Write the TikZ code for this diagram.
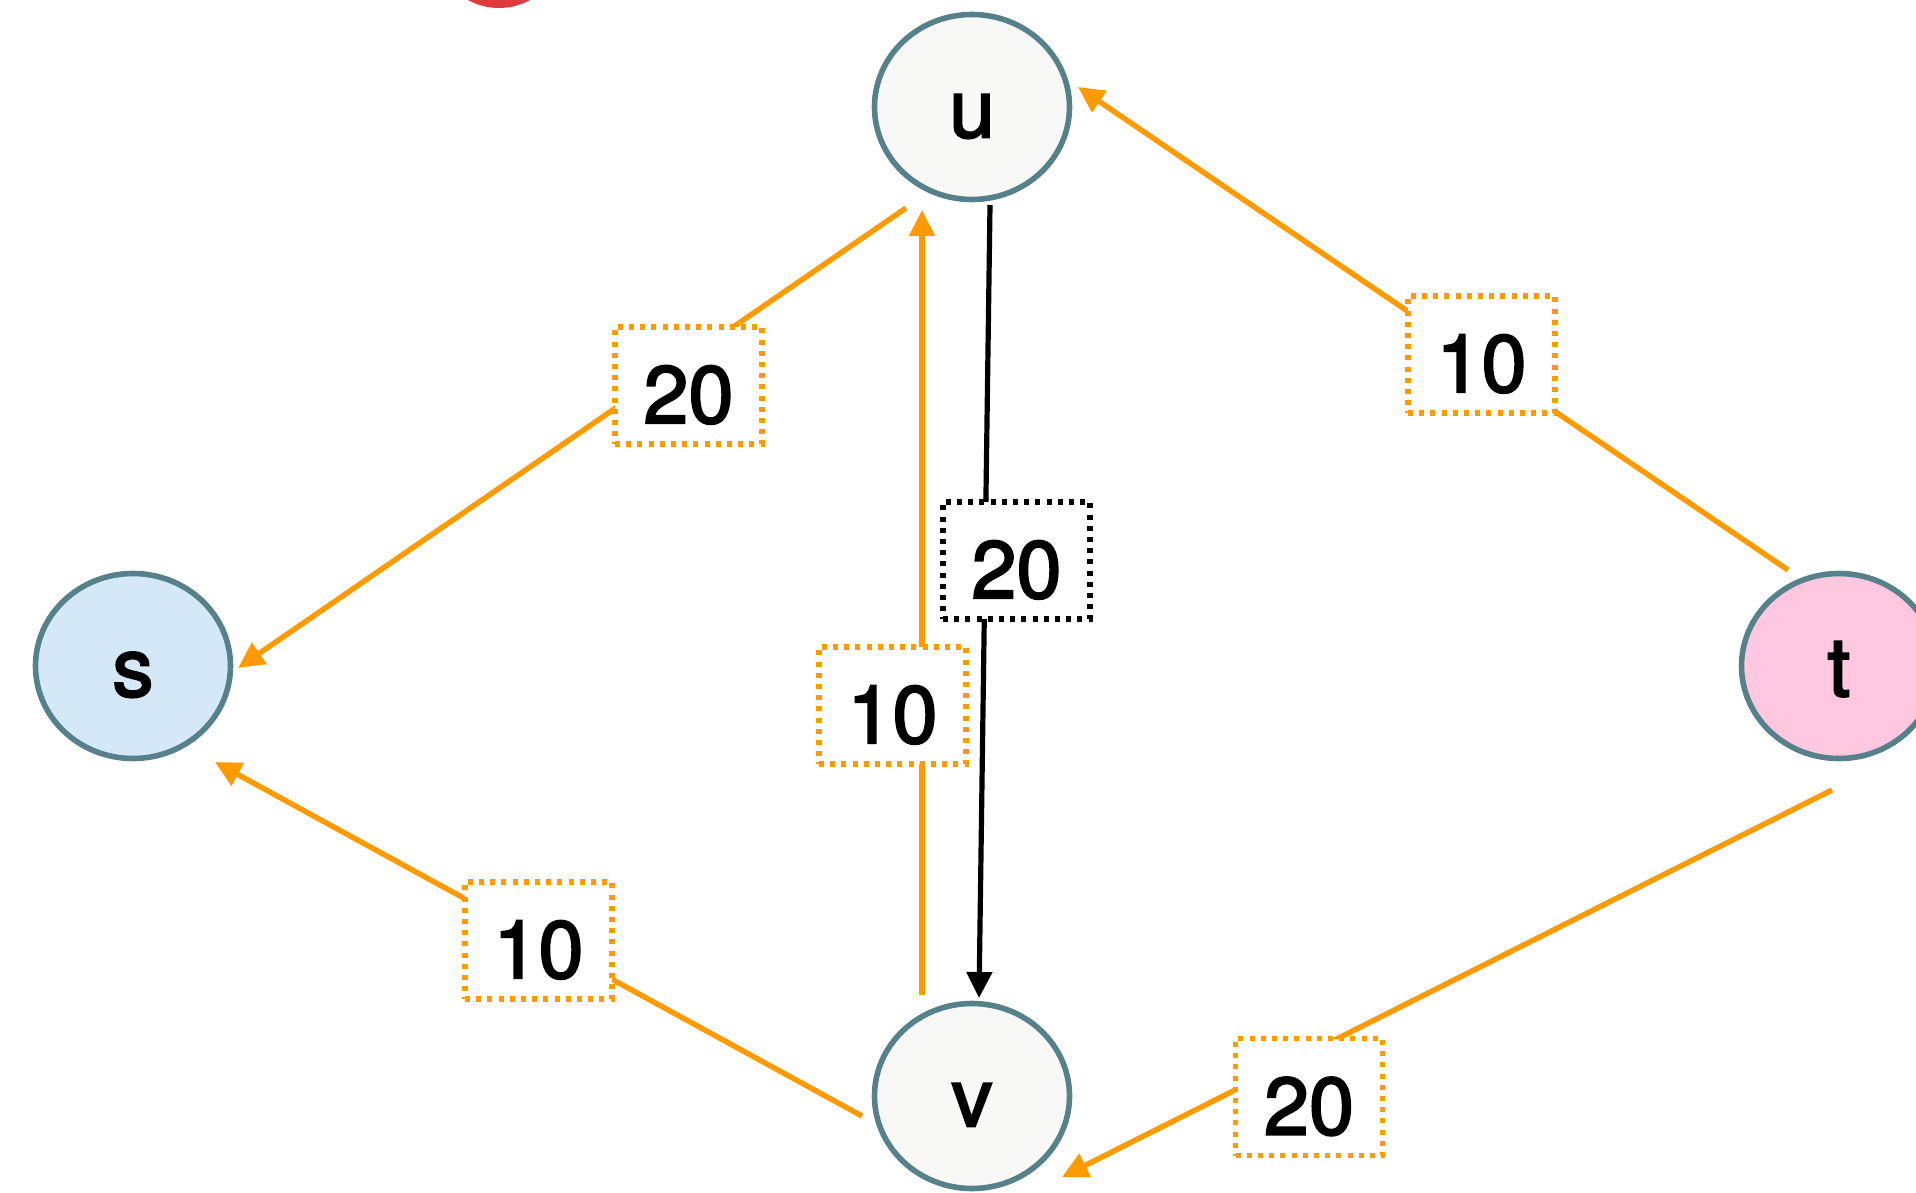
\documentclass[tikz,border=0pt]{standalone}
\usepackage{fontspec}
\setmainfont[FakeBold=2.5]{TeX Gyre Heros}
\usetikzlibrary{arrows.meta,shapes.geometric}
\definecolor{edgeor}{HTML}{FF9A00}
\definecolor{ringc}{HTML}{56808A}
\definecolor{grayfill}{HTML}{F8F8F6}
\definecolor{sfill}{HTML}{D4E8F8}
\definecolor{tfill}{HTML}{FFC8E0}
\definecolor{redc}{HTML}{E03A3E}
\tikzset{
  vertex/.style={ellipse, draw=ringc, line width=2.8pt, minimum width=97.5pt, minimum height=92.5pt, inner sep=0pt, text height=32pt, text depth=1.7pt, font=\fontsize{41}{41}\selectfont},
  orline/.style={draw=edgeor, line width=2.7pt},
  blline/.style={draw=black, line width=2.6pt},
  tip/.style={-{Triangle[length=13pt,width=12.5pt]}},
  wlabel/.style={fill=white, line width=2.6pt, dash pattern=on 2.5pt off 3.1pt, minimum width=73.5pt, minimum height=58.5pt, inner sep=0pt, text height=40pt, text depth=2.5pt, font=\fontsize{40.5}{40.5}\selectfont},
  orlabel/.style={wlabel, draw=edgeor},
  bllabel/.style={wlabel, draw=black}
}
\begin{document}
\begin{tikzpicture}[x=0.5pt,y=-0.5pt]
\useasboundingbox (0,0) rectangle (1916,1193);
\clip (0,0) rectangle (1916,1193);
% partial red shape at top
\fill[redc] (499,-56) circle[radius=64];
% nodes
\node[vertex, fill=grayfill] (u) at (972,107) {u};
\node[vertex, fill=grayfill] (v) at (972,1096) {v};
\node[vertex, fill=sfill] (s) at (133,666) {s};
\node[vertex, fill=tfill] (t) at (1839,666) {t};
% connector end points
\coordinate (us0) at (906,208);
\coordinate (us1) at (238,668);
\coordinate (vs0) at (862,1116);
\coordinate (vs1) at (215,762);
\coordinate (vu0) at (922,995);
\coordinate (vu1) at (922,210);
\coordinate (uv0) at (990,205);
\coordinate (uv1) at (979,998);
\coordinate (tu0) at (1788,570);
\coordinate (tu1) at (1078,87);
\coordinate (tv0) at (1832,790);
\coordinate (tv1) at (1062,1177);
% connectors
\draw[orline, tip] (us0) -- (us1);
\draw[orline, tip] (vs0) -- (vs1);
\draw[orline, tip] (vu0) -- (vu1);
\draw[blline, tip] (uv0) -- (uv1);
\draw[orline, tip] (tu0) -- (tu1);
\draw[orline, tip] (tv0) -- (tv1);
% labels
\node[orlabel] (lus) at (688.5,385.5) {20};
\node[bllabel] (luv) at (1016.5,560.5) {20};
\node[orlabel] (lvu) at (892.5,705.5) {10};
\node[orlabel] (ltu) at (1481.5,354.5) {10};
\node[orlabel] (lvs) at (538.5,940.5) {10};
\node[orlabel] (ltv) at (1309,1097) {20};
\end{tikzpicture}
\end{document}
